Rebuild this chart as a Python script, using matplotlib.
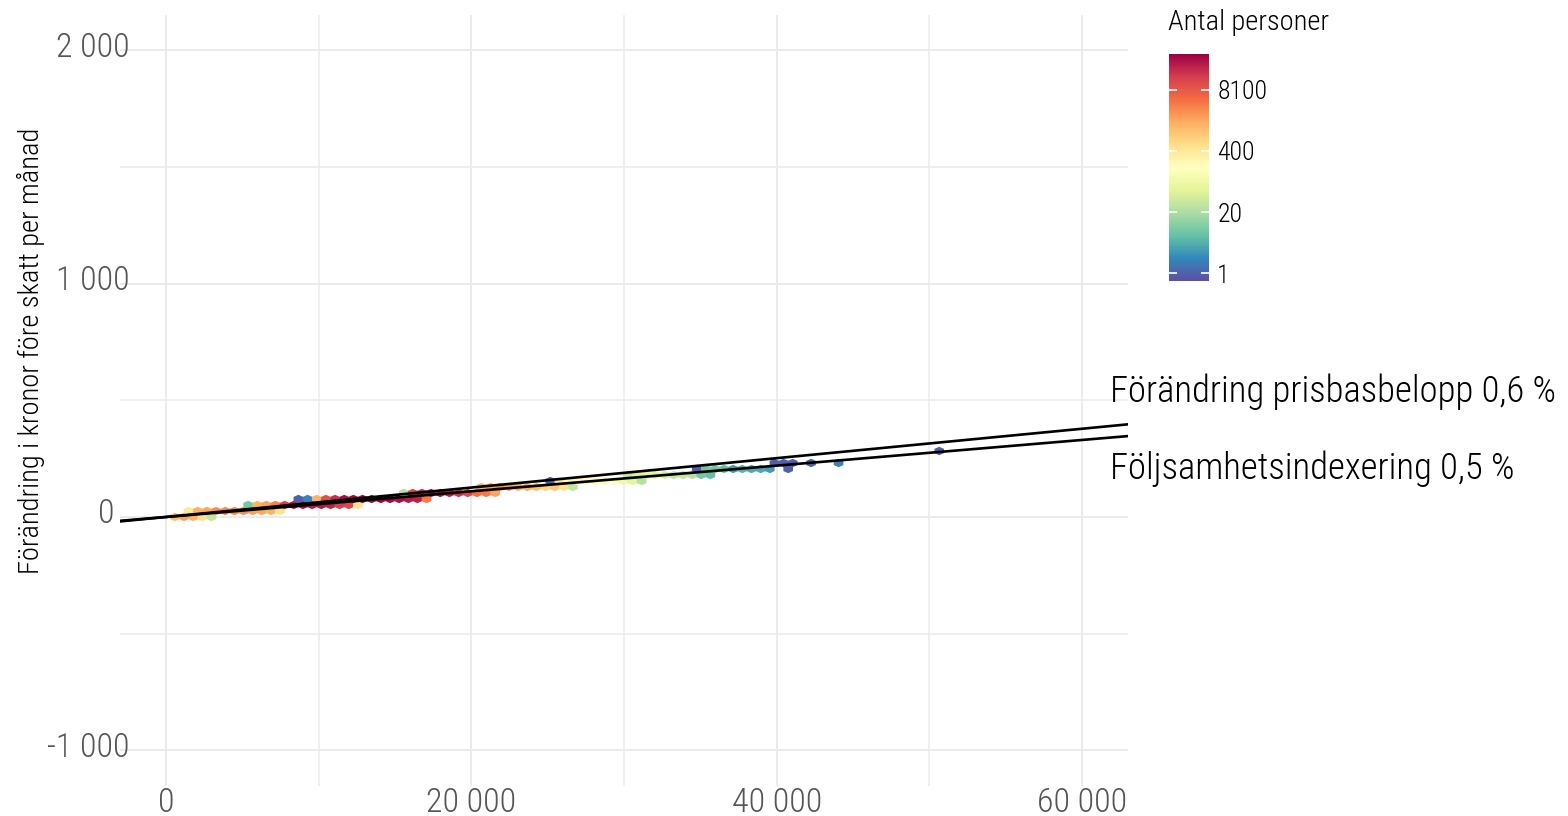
import numpy as np
import matplotlib
matplotlib.use("Agg")
import matplotlib.pyplot as plt
import matplotlib.transforms as mtransforms
from matplotlib.colors import LogNorm
from matplotlib import font_manager as fm

# ---------------- data (hexbin cells) ----------------
# y centre of each hex row (kronor per month)
row_y = [0, 25.7, 51.4, 77.1, 102.8, 128.5, 154.2, 179.9, 205.6, 231.3, 282.7]

x_r0 = [590, 1190, 1790, 2390, 2990]
n_r0 = [1200, 2000, 1500, 500, 30]
x_r1 = [1490, 2090, 2690, 3290, 3890, 4490, 5090, 5690, 6280, 6880, 7480]
n_r1 = [400, 1500, 1800, 2800, 3000, 3000, 3000, 2000, 1800, 1500, 500]
x_r2 = [5390, 5990, 6580, 7180, 7780, 8380, 8980, 9580, 10180, 10780, 11380, 11980, 12580]
n_r2 = [8, 1500, 2000, 3500, 15000, 30000, 35000, 30000, 30000, 25000, 15000, 12000, 500]
x_r3 = [8680, 9280, 9880, 10480, 11080, 11680, 12280, 12880, 13480, 14080, 14680,
        15280, 15880, 16470, 17070]
n_r3 = [1, 2, 1500, 10000, 20000, 35000, 40000, 40000, 40000, 40000, 40000,
        35000, 30000, 25000, 4000]
x_r4 = [15580, 16170, 16770, 17370, 17970, 18570, 19170, 19770, 20370, 20970, 21570]
n_r4 = [25, 12000, 20000, 30000, 30000, 25000, 18000, 12000, 5000, 4000, 1800]
x_r5 = [20670, 21270, 21870, 22470, 23070, 23670, 24270, 24870, 25470, 26060, 26660]
n_r5 = [1500, 1800, 3000, 2000, 1500, 1500, 1200, 700, 900, 500, 30]
x_r6 = [25170, 25770, 26360, 26960, 27560, 28160, 28760, 29360, 29960, 30560, 31160]
n_r6 = [1, 400, 200, 200, 180, 180, 150, 150, 100, 60, 25]
x_r7 = [30260, 30860, 31460, 32060, 32660, 33260, 33860, 34460, 35060, 35660]
n_r7 = [30, 50, 60, 60, 50, 30, 30, 25, 8, 6]
x_r8 = [34760, 35360, 35960, 36550, 37150, 37750, 38350, 38950, 39550, 40750]
n_r8 = [1, 8, 8, 6, 3, 5, 4, 4, 3, 1]
x_r9 = [39850, 40450, 41050, 42250, 44050]
n_r9 = [1, 1, 1, 1, 2]
x_r11 = [50640]
n_r11 = [1]

# reference lines (change in kronor as share of income)
line_labels = ["Förändring prisbasbelopp 0,6 %", "Följsamhetsindexering 0,5 %"]
line_slopes = [0.0063, 0.0055]
label_x = 61800
label_y = [536, 208]

x_ticks = [0, 20000, 40000, 60000]
x_ticklabels = ["0", "20 000", "40 000", "60 000"]
x_minor = [10000, 30000, 50000]
y_ticks = [-1000, 0, 1000, 2000]
y_ticklabels = ["-1 000", "0", "1 000", "2 000"]
y_minor = [-500, 500, 1500]

legend_breaks = [1, 20.09, 403.4, 8103]
legend_labels = ["1", "20", "400", "8100"]
count_min, count_max = 0.68, 47000

y_title = "Förändring i kronor före skatt per månad"
legend_title = "Antal personer"

# ---------------- font ----------------
names = {f.name for f in fm.fontManager.ttflist}
FONT = None
for cand in ["Roboto Condensed", "Open Sans Condensed", "Noto Sans Condensed",
             "Liberation Sans Narrow", "DejaVu Sans Condensed", "Lato"]:
    if cand in names:
        FONT = cand
        break
if FONT is None:
    FONT = "DejaVu Sans"
plt.rcParams["font.family"] = [FONT, "DejaVu Sans"]
plt.rcParams["font.weight"] = "light"

# ---------------- assemble ----------------
xs_rows = [x_r0, x_r1, x_r2, x_r3, x_r4, x_r5, x_r6, x_r7, x_r8, x_r9, x_r11]
ns_rows = [n_r0, n_r1, n_r2, n_r3, n_r4, n_r5, n_r6, n_r7, n_r8, n_r9, n_r11]
hx, hy, hn = [], [], []
for yv, xr, nr in zip(row_y, xs_rows, ns_rows):
    hx += xr
    hy += [yv] * len(xr)
    hn += nr

fig = plt.figure(figsize=(15.68, 8.16), dpi=100)
ax = fig.add_axes([120 / 1568, 1 - 785.5 / 816, 1008 / 1568, 770.5 / 816])

hexagon = [(0, 4), (4.575, 2), (4.575, -2), (0, -4), (-4.575, -2), (-4.575, 2), (0, 4)]
norm = LogNorm(vmin=count_min, vmax=count_max)
sc = ax.scatter(hx, hy, c=hn, cmap="Spectral_r", norm=norm, marker=hexagon,
                s=48, linewidths=0, zorder=3)

for sl in line_slopes:
    ax.axline((0, 0), slope=sl, color="black", lw=1.9, zorder=4)

for txt, yv in zip(line_labels, label_y):
    ax.text(label_x, yv, txt, ha="left", va="center", fontsize=26.5,
            color="black", clip_on=False)

ax.set_xlim(-3000, 63000)
ax.set_ylim(-1150, 2150)
for s in ax.spines.values():
    s.set_visible(False)
ax.set_xticks(x_ticks)
ax.set_xticklabels(x_ticklabels)
ax.set_xticks(x_minor, minor=True)
ax.set_yticks(y_ticks)
ax.set_yticklabels(y_ticklabels)
ax.set_yticks(y_minor, minor=True)
ax.tick_params(which="both", length=0)
ax.tick_params(axis="x", labelsize=24.5, labelcolor="#555555", pad=1)
ax.tick_params(axis="y", labelsize=24.5, labelcolor="#555555", pad=-9)
ax.grid(which="major", color="#EBEBEB", lw=1.4, zorder=0)
ax.grid(which="minor", color="#EBEBEB", lw=1.1, zorder=0)
ax.set_axisbelow(True)

# shift y labels slightly up, and the "0" label left as in the original
for lab in ax.get_yticklabels():
    dx = -18 if lab.get_text() == "0" else -3
    lab.set_transform(lab.get_transform() +
                      mtransforms.ScaledTranslation(dx / 100, 6 / 100, fig.dpi_scale_trans))

ax.set_ylabel(y_title, fontsize=20.5, color="black", va="center", fontweight="light")
ax.yaxis.set_label_coords(-0.088, 0.564)

# colour bar legend
cax = fig.add_axes([1169 / 1568, 1 - 281 / 816, 40 / 1568, 227 / 816])
cb = fig.colorbar(sc, cax=cax, ticks=legend_breaks)
cb.outline.set_visible(False)
cb.minorticks_off()
cb.set_ticks(legend_breaks)
cb.set_ticklabels(legend_labels)
cax.tick_params(which="major", direction="in", color="white", width=1.2, length=6,
                left=True, right=True, labelleft=False, labelright=True,
                labelsize=18.5, labelcolor="black", pad=6)
fig.text(1168 / 1568, 1 - 22 / 816, legend_title, ha="left", va="center",
         fontsize=20.5, color="black")

fig.savefig("out.png", dpi=100)
